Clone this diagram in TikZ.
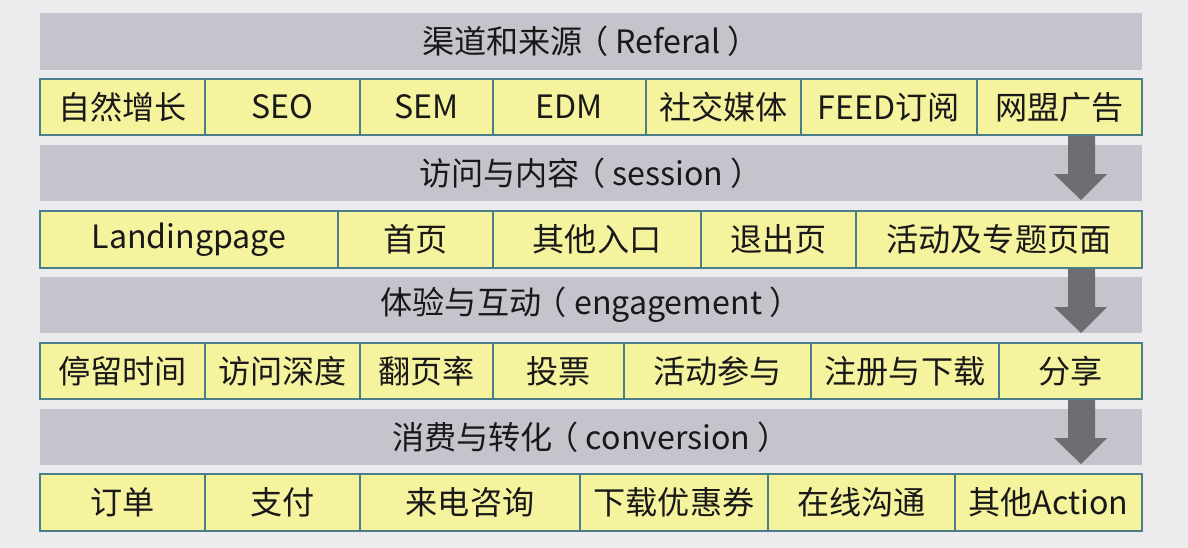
\documentclass[tikz,border=0pt]{standalone}
\usepackage{fontspec}
\setmainfont{Noto Sans CJK SC}
\usepackage{tikz}
\definecolor{slidebg}{HTML}{ECECEF}
\definecolor{barGray}{HTML}{C4C5CC}
\definecolor{cellYellow}{HTML}{F6F39F}
\definecolor{cellEdge}{HTML}{4A7E8A}
\definecolor{arrowGray}{HTML}{6E6E72}
\tikzset{
  headbar/.style={fill=barGray, draw=none},
  cellbox/.style={fill=cellYellow, draw=cellEdge, line width=0.6pt},
  lbl/.style={text=black!90, font=\fontsize{18.3}{21}\selectfont, inner sep=0pt}
}
\def\flowarrow(#1){\fill[arrowGray] (1068,#1) -- (1095,#1) -- (1095,{#1+39}) -- (1107,{#1+39}) -- (1081,{#1+65}) -- (1054,{#1+39}) -- (1068,{#1+39}) -- cycle;}
\def\lp{\kern-0.2em（ }

\begin{document}
\begin{tikzpicture}[x=0.02cm, y=-0.02cm]
		%%%%% BACKGROUND %%%%%
		\fill[slidebg] (0,0) rectangle (1188,548);
		\useasboundingbox (0,0) rectangle (1188,548);
		
		%%%%% HEADER BARS %%%%%
		\draw[headbar] (40,13) rectangle (1142,70) node[midway, lbl] (referal) {渠道和来源\lp Referal ）};
		\draw[headbar] (40,145) rectangle (1142,201) node[midway, lbl] (session) {访问与内容\lp session ）};
		\draw[headbar] (40,277) rectangle (1142,333) node[midway, lbl] (engage) {体验与互动\lp engagement ）};
		\draw[headbar] (40,409) rectangle (1142,465) node[midway, lbl] (convert) {消费与转化\lp conversion ）};
		
		%%%%% ARROWS %%%%%
		\flowarrow(135)
		\flowarrow(268)
		\flowarrow(399)
		
		%%%%% CELLS %%%%%
		\foreach \a/\b/\t [count=\i] in {40/205/自然增长, 205/360/SEO, 360/493/SEM, 493/646/EDM, 646/801/社交媒体, 801/977/FEED订阅, 977/1142/网盟广告}
			\draw[cellbox] (\a,79) rectangle (\b,135) node[midway, lbl] (ra\i) {\t};
		
		\foreach \a/\b/\t [count=\i] in {40/338/Landingpage, 338/493/首页, 493/701/其他入口, 701/856/退出页, 856/1142/活动及专题页面}
			\draw[cellbox] (\a,211) rectangle (\b,268) node[midway, lbl] (rb\i) {\t};
		
		\foreach \a/\b/\t [count=\i] in {40/205/停留时间, 205/360/访问深度, 360/493/翻页率, 493/624/投票, 624/811/活动参与, 811/999/注册与下载, 999/1142/分享}
			\draw[cellbox] (\a,343) rectangle (\b,399) node[midway, lbl] (rc\i) {\t};
		
		\foreach \a/\b/\t [count=\i] in {40/205/订单, 205/360/支付, 360/580/来电咨询, 580/768/下载优惠券, 768/955/在线沟通, 955/1142/其他Action}
			\draw[cellbox] (\a,474) rectangle (\b,531) node[midway, lbl] (rd\i) {\t};
		%%%%% END %%%%%
\end{tikzpicture}
\end{document}
